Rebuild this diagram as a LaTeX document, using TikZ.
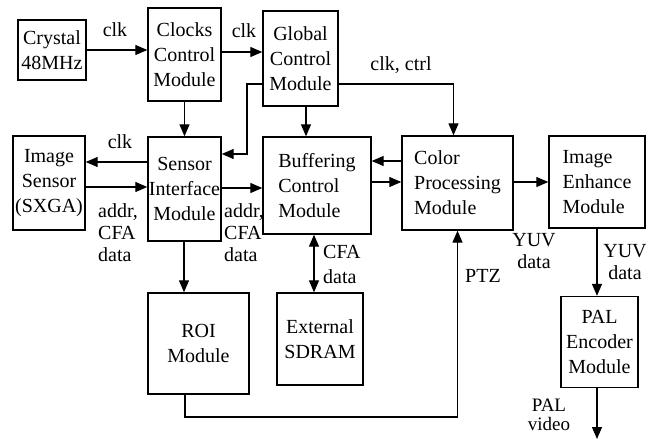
\documentclass[tikz,border=0pt]{standalone}
\usepackage{fontspec}
\setmainfont{Liberation Serif}
\usetikzlibrary{arrows.meta,positioning}

\begin{document}
\begin{tikzpicture}[x=1pt,y=-1pt,
    module/.style={draw, line width=1.4pt, align=center, inner sep=1pt, font=\fontsize{20}{25}\selectfont},
    sig/.style={line width=1.3pt, -{Triangle[length=12pt,width=10pt]}},
    lbl/.style={align=left, inner sep=0pt, font=\fontsize{20}{22}\selectfont}]
    \useasboundingbox (0,0) rectangle (649,439);

    % modules
    \node[module, minimum width=68pt, minimum height=60pt] (crystal) at (52,50) {Crystal\\48MHz};
    \node[module, minimum width=73pt, minimum height=93pt] (clocks) at (184.5,54.5) {Clocks\\Control\\Module};
    \node[module, minimum width=75pt, minimum height=95pt] (global) at (300.5,58.5) {Global\\Control\\Module};
    \node[module, minimum width=72pt, minimum height=94pt] (imgsensor) at (49,183) {Image\\Sensor\\(SXGA)};
    \node[module, minimum width=73pt, minimum height=104pt] (sensor) at (184.5,189) {Sensor\\Interface\\Module};
    \node[module, align=left, minimum width=108pt, minimum height=97pt] (buffering) at (317,185.5) {Buffering\\Control\\Module};
    \node[module, align=left, minimum width=111pt, minimum height=94pt] (color) at (457.5,183) {Color\\Processing\\Module};
    \node[module, align=left, minimum width=96pt, minimum height=92pt] (enhance) at (597,182) {Image\\Enhance\\Module};
    \node[module, minimum width=101pt, minimum height=101pt] (roi) at (198.5,343.5) {ROI\\Module};
    \node[module, minimum width=86pt, minimum height=92pt] (sdram) at (320,339) {External\\SDRAM};
    \node[module, minimum width=77pt, minimum height=91pt] (pal) at (599.5,342) {PAL\\Encoder\\Module};
    \coordinate (palout) at (597,439);

    % connections
    \draw[sig] (crystal.east) -- (crystal.east -| clocks.west);
    \draw[sig] (clocks.east |- 0,52) -- (global.west |- 0,52);
    \draw[sig] (global.east |- 0,84) -| ([xshift=-4pt]color.north);
    \draw[sig] (clocks) -- (sensor);
    \draw[sig] (global.west |- 0,84) -- (247,84) -- (247,154) -- (sensor.east |- 0,154);
    \draw[sig] (306,0 |- global.south) -- (306,0 |- buffering.north);
    \draw[sig] (sensor.west |- 0,162) -- (imgsensor.east |- 0,162);
    \draw[sig] (imgsensor.east |- 0,187) -- (sensor.west |- 0,187);
    \draw[sig] (sensor.east |- 0,188) -- (buffering.west |- 0,188);
    \draw[sig, {Triangle[length=12pt,width=10pt]}-{Triangle[length=12pt,width=10pt]}] (314,0 |- buffering.south) -- (314,0 |- sdram.north);
    \draw[sig] (color.west |- 0,161) -- (buffering.east |- 0,161);
    \draw[sig] (buffering.east |- 0,182) -- (color.west |- 0,182);
    \draw[sig] (color.east |- 0,182) -- (enhance.west |- 0,182);
    \draw[sig] (597,0 |- enhance.south) -- (597,0 |- pal.north);
    \draw[sig] (597,0 |- pal.south) -- (palout);
    \draw[sig] (sensor.south -| 184,0) -- (roi.north -| 184,0);
    \draw[sig] (roi.south -| 185,0) -- (185,417) -| (color.south);

    % signal labels
    \node[lbl] (clk1) at (115,30) {clk};
    \node[lbl] (clk2) at (244,31) {clk};
    \node[lbl] (clkctrl) at (401,65) {clk, ctrl};
    \node[lbl] (clk3) at (120,142) {clk};
    \node[lbl, anchor=west] (addr1) at (98,233) {addr,\\CFA\\data};
    \node[lbl, anchor=west] (addr2) at (224,233) {addr,\\CFA\\data};
    \node[lbl, anchor=west, font=\fontsize{20}{25}\selectfont] (cfa) at (323,264) {CFA\\data};
    \node[lbl, align=center] (yuv1) at (534,251) {YUV\\data};
    \node[lbl, align=center] (yuv2) at (625,262) {YUV\\data};
    \node[lbl] (ptz) at (483,276) {PTZ};
    \node[lbl, align=center, font=\fontsize{19}{19}\selectfont] (palvideo) at (549,415) {PAL\\video};
\end{tikzpicture}
\end{document}
